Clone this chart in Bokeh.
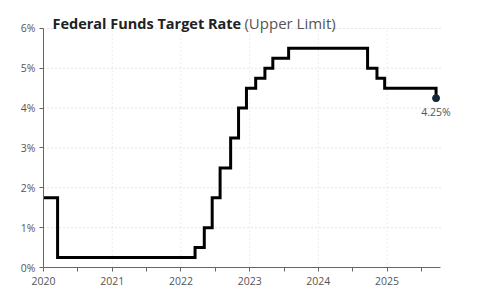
import pandas as pd
from bokeh.plotting import figure
from bokeh.models import FixedTicker, Label, Range1d
from bokeh.embed import file_html
from bokeh.resources import INLINE

# Effective dates of each change to the upper limit of the target range
change_dates = [
    "2020-01-01", "2020-03-16", "2022-03-17", "2022-05-05", "2022-06-16",
    "2022-07-28", "2022-09-22", "2022-11-03", "2022-12-15", "2023-02-02",
    "2023-03-23", "2023-05-04", "2023-07-27", "2024-09-19", "2024-11-08",
    "2024-12-19", "2025-09-18",
]
upper_limit = [
    1.75, 0.25, 0.50, 1.00, 1.75,
    2.50, 3.25, 4.00, 4.50, 4.75,
    5.00, 5.25, 5.50, 5.00, 4.75,
    4.50, 4.25,
]
year_ticks = [2020, 2021, 2022, 2023, 2024, 2025]
pct_ticks = [0, 1, 2, 3, 4, 5, 6]
last_label = "4.25%"


def decimal_year(d):
    ts = pd.Timestamp(d)
    start = pd.Timestamp(year=ts.year, month=1, day=1)
    end = pd.Timestamp(year=ts.year + 1, month=1, day=1)
    return ts.year + (ts - start) / (end - start)


xs = [decimal_year(d) for d in change_dates]

FONT = "Open Sans"
GREY = "#555555"
X0, X1 = 2020, 2025.78      # extent of the axes / grid
Y0, Y1 = 0, 6

# plot area is a little larger than the axes so the heading and end label fit
p = figure(width=482, height=300, output_backend="svg", toolbar_location=None,
           x_range=Range1d(X0, 2026.33), y_range=Range1d(Y0, 6.45),
           min_border_left=43, min_border_right=4, min_border_top=10,
           min_border_bottom=33)
p.outline_line_color = None
p.background_fill_color = "white"
p.border_fill_color = "white"
p.grid.visible = False

# dotted grid, limited to the axes' extent
p.segment(x0=X0, x1=X1, y0=pct_ticks[1:], y1=pct_ticks[1:],
          line_color="#c8c8c8", line_dash="1 3", line_width=1)
p.segment(x0=year_ticks[1:], x1=year_ticks[1:], y0=Y0, y1=Y1,
          line_color="#dcdcdc", line_dash="1 3", line_width=1)

p.step(xs, upper_limit, mode="after", line_color="black", line_width=3,
       line_join="miter")
p.scatter([xs[-1]], [upper_limit[-1]], size=7, color="#14283c")

# axes
p.xaxis.ticker = FixedTicker(ticks=year_ticks,
                             minor_ticks=[y + 0.5 for y in year_ticks])
p.xaxis.major_label_overrides = {y: str(y) for y in year_ticks}
p.xaxis.bounds = (X0, X1)
p.yaxis.ticker = FixedTicker(ticks=pct_ticks)
p.yaxis.major_label_overrides = {v: f"{v}%" for v in pct_ticks}
p.yaxis.bounds = (Y0, Y1)
for ax in (p.xaxis, p.yaxis):
    ax.axis_line_color = "#666666"
    ax.major_tick_line_color = "#666666"
    ax.minor_tick_line_color = "#666666"
    ax.major_tick_out = 4
    ax.major_tick_in = 0
    ax.minor_tick_out = 4
    ax.minor_tick_in = 0
    ax.major_label_text_font = FONT
    ax.major_label_text_font_size = "10.5px"
    ax.major_label_text_color = GREY
p.yaxis.minor_tick_line_color = None
p.yaxis.major_label_standoff = 4
p.xaxis.major_label_standoff = 5

p.add_layout(Label(x=xs[-1], y=upper_limit[-1], text=last_label,
                   text_font=FONT, text_font_size="10.5px", text_color=GREY,
                   text_align="center", text_baseline="top", y_offset=-7))

# two-part heading
p.add_layout(Label(x=2020.13, y=6.13, text="Federal Funds Target Rate",
                   text_font=FONT, text_font_size="14.5px",
                   text_font_style="bold", text_color="#222222",
                   text_baseline="alphabetic"))
p.add_layout(Label(x=2020.13, y=6.13, x_offset=192, text="(Upper Limit)",
                   text_font=FONT, text_font_size="15px",
                   text_color="#555555", text_baseline="alphabetic"))

open("out.html", "w").write(file_html(p, INLINE))
